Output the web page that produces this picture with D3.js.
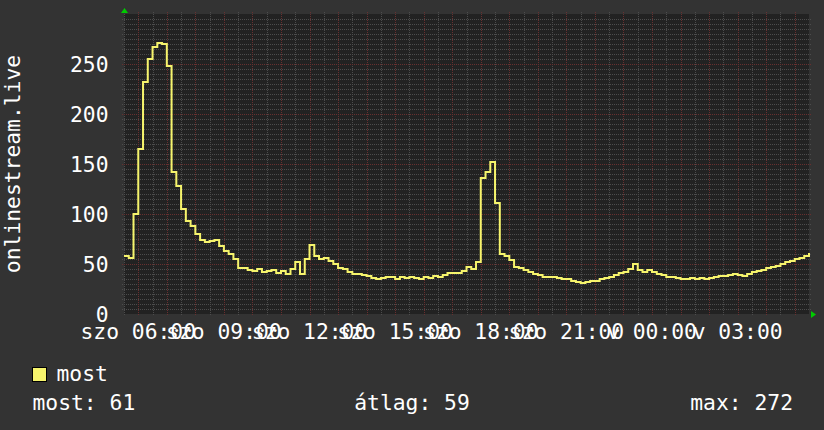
<!DOCTYPE html>
<html>
<head>
<meta charset="utf-8">
<script src="https://cdn.jsdelivr.net/npm/d3@7"></script>
<style>
body { margin: 0; background: #333333; }
svg { display: block; }
text { font-family: "DejaVu Sans Mono", monospace; font-size: 21.33px; fill: #ffffff; }
</style>
</head>
<body>
<div id="chart"></div>
<script>
// listeners, one sample every 10 minutes from szo 05:30 to v 05:30
var values = [
    58, 56, 100, 165, 232, 255, 267, 271, 270, 248,
    142, 128, 105, 93, 88, 80, 74, 72, 73, 74,
    68, 63, 60, 55, 46, 46, 44, 43, 45, 42,
    43, 44, 41, 43, 40, 45, 52, 40, 55, 69,
    58, 55, 56, 53, 50, 46, 45, 42, 40, 40,
    39, 38, 36, 35, 36, 37, 37, 35, 37, 36,
    37, 36, 35, 37, 36, 38, 37, 39, 41, 41,
    41, 43, 47, 45, 52, 136, 142, 152, 111, 60,
    58, 54, 47, 46, 44, 42, 40, 39, 37, 37,
    37, 36, 35, 35, 33, 32, 31, 32, 33, 33,
    35, 36, 37, 39, 41, 42, 45, 50, 44, 42,
    44, 42, 40, 39, 37, 37, 36, 35, 35, 36,
    35, 36, 35, 36, 37, 38, 38, 39, 40, 39,
    38, 40, 42, 43, 44, 46, 47, 48, 50, 52,
    53, 55, 56, 58, 61
];
var yTicks = [0, 50, 100, 150, 200, 250];
var xTickLabels = ["szo 06:00", "szo 09:00", "szo 12:00", "szo 15:00",
                   "szo 18:00", "szo 21:00", "v 00:00", "v 03:00"];
var yTitle = "onlinestream.live";
var legendLabel = "most";
var statLabels = ["most: 61", "átlag: 59", "max: 272"];

var width = 824,
    height = 430,
    plot = {left: 124, right: 809, top: 14, bottom: 314};

var startTime = new Date(2024, 5, 1, 5, 30),
    endTime = d3.timeHour.offset(startTime, 24);

var data = values.map(function(v, i) {
    return {t: d3.timeMinute.offset(startTime, i * 10), v: v};
});

var x = d3.scaleTime()
    .domain([startTime, endTime])
    .range([plot.left, plot.right]);

var y = d3.scaleLinear()
    .domain([0, 300])
    .range([plot.bottom, plot.top]);

var svg = d3.select("#chart").append("svg")
    .attr("width", width)
    .attr("height", height);

svg.append("rect")
    .attr("width", width)
    .attr("height", height)
    .attr("fill", "#333333");

svg.append("rect")
    .attr("x", plot.left)
    .attr("y", plot.top)
    .attr("width", plot.right - plot.left)
    .attr("height", plot.bottom - plot.top)
    .attr("fill", "#222222");

var grid = svg.append("g")
    .attr("shape-rendering", "crispEdges")
    .attr("stroke-width", 1)
    .attr("stroke-dasharray", "1,1");

var minorColor = "#4c4c4c",
    majorColor = "#683030";

// vertical grid: minor every 30 min, major every hour
var halfHours = d3.timeMinute.every(30).range(startTime, endTime).filter(function(d) { return d.getMinutes() !== 0; }),
    hours = d3.timeHour.range(startTime, endTime);

grid.selectAll(".vminor")
    .data(halfHours)
    .enter().append("line")
    .attr("class", "vminor")
    .attr("x1", function(d) { return Math.round(x(d)) + 0.5; })
    .attr("x2", function(d) { return Math.round(x(d)) + 0.5; })
    .attr("y1", plot.top - 2)
    .attr("y2", plot.bottom + 2)
    .attr("stroke", minorColor);

// horizontal grid: minor every 5, major every 50
var hMinor = d3.range(5, 300, 5).filter(function(d) { return d % 50 !== 0; }),
    hMajor = d3.range(50, 300, 50);

grid.selectAll(".hminor")
    .data(hMinor)
    .enter().append("line")
    .attr("class", "hminor")
    .attr("x1", plot.left - 2)
    .attr("x2", plot.right + 2)
    .attr("y1", function(d) { return Math.round(y(d)) + 0.5; })
    .attr("y2", function(d) { return Math.round(y(d)) + 0.5; })
    .attr("stroke", minorColor);

grid.selectAll(".vmajor")
    .data(hours)
    .enter().append("line")
    .attr("class", "vmajor")
    .attr("x1", function(d) { return Math.round(x(d)) + 0.5; })
    .attr("x2", function(d) { return Math.round(x(d)) + 0.5; })
    .attr("y1", plot.top - 2)
    .attr("y2", plot.bottom + 2)
    .attr("stroke", majorColor);

grid.selectAll(".hmajor")
    .data(hMajor)
    .enter().append("line")
    .attr("class", "hmajor")
    .attr("x1", plot.left - 2)
    .attr("x2", plot.right + 2)
    .attr("y1", function(d) { return Math.round(y(d)) + 0.5; })
    .attr("y2", function(d) { return Math.round(y(d)) + 0.5; })
    .attr("stroke", majorColor);

// data line
var line = d3.line()
    .x(function(d) { return x(d.t); })
    .y(function(d) { return y(d.v); })
    .curve(d3.curveStepAfter);

svg.append("path")
    .datum(data)
    .attr("fill", "none")
    .attr("stroke", "#f6f46c")
    .attr("stroke-width", 2)
    .attr("stroke-linejoin", "miter")
    .attr("d", line);

// axis arrows
svg.append("path")
    .attr("d", "M" + (plot.left - 3) + "," + (plot.top - 1) + "L" + (plot.left + 0.5) + "," + (plot.top - 6) + "L" + (plot.left + 4) + "," + (plot.top - 1) + "Z")
    .attr("fill", "#00cc00");

svg.append("path")
    .attr("d", "M" + (plot.right + 2) + "," + (plot.bottom - 3) + "L" + (plot.right + 7) + "," + (plot.bottom + 0.5) + "L" + (plot.right + 2) + "," + (plot.bottom + 4) + "Z")
    .attr("fill", "#00cc00");

// y tick labels
svg.selectAll(".ylab")
    .data(yTicks)
    .enter().append("text")
    .attr("class", "ylab")
    .attr("x", 108.5)
    .attr("y", function(d) { return y(d) + 8; })
    .attr("text-anchor", "end")
    .text(function(d) { return d; });

// x tick labels, every 3 hours (they overlap in the original too)
var xTicks = x.ticks(d3.timeHour.every(3));

svg.selectAll(".xlab")
    .data(xTicks)
    .enter().append("text")
    .attr("class", "xlab")
    .attr("x", function(d) { return x(d); })
    .attr("y", 338.5)
    .attr("text-anchor", "middle")
    .text(function(d, i) { return xTickLabels[i]; });

// y title
svg.append("text")
    .attr("transform", "translate(19.5," + ((plot.top + plot.bottom) / 2) + ") rotate(-90)")
    .attr("text-anchor", "middle")
    .text(yTitle);

// legend
svg.append("rect")
    .attr("x", 32.5)
    .attr("y", 367.5)
    .attr("width", 14)
    .attr("height", 14)
    .attr("fill", "#f6f46c")
    .attr("stroke", "#000000")
    .attr("stroke-width", 1);

svg.append("text")
    .attr("x", 56.5)
    .attr("y", 381)
    .text(legendLabel);

svg.append("text")
    .attr("x", 32.5)
    .attr("y", 409.5)
    .text(statLabels[0]);

svg.append("text")
    .attr("x", width / 2)
    .attr("y", 409.5)
    .attr("text-anchor", "middle")
    .text(statLabels[1]);

svg.append("text")
    .attr("x", 793)
    .attr("y", 409.5)
    .attr("text-anchor", "end")
    .text(statLabels[2]);
</script>
</body>
</html>
